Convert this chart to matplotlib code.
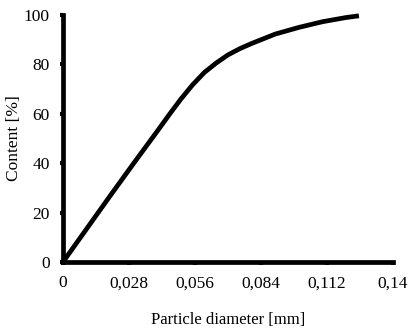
import matplotlib
matplotlib.use("Agg")
import matplotlib.pyplot as plt

diameter = [0, 0.01, 0.02, 0.03, 0.04, 0.045, 0.05, 0.055, 0.06, 0.065, 0.07, 0.075, 0.08, 0.085, 0.09, 0.10, 0.11, 0.12, 0.1255]
content = [0, 13.4, 26.8, 40, 53, 59.6, 66, 71.8, 76.8, 80.6, 83.9, 86.4, 88.5, 90.4, 92.3, 95, 97.3, 99, 99.7]

x_ticks = [0, 0.028, 0.056, 0.084, 0.112, 0.14]
x_tick_labels = ["0", "0,028", "0,056", "0,084", "0,112", "0,14"]
y_ticks = [0, 20, 40, 60, 80, 100]

plt.rcParams['font.family'] = ['Liberation Serif', 'DejaVu Serif']

fig = plt.figure(figsize=(4.2, 3.35), dpi=100)
ax = fig.add_axes([0.15, 0.218, 0.786, 0.737])
ax.plot(diameter, content, color='black', lw=3.4, solid_joinstyle='round', solid_capstyle='butt', clip_on=False)
ax.set_xlim(0, 0.14)
ax.set_ylim(0, 100)
ax.set_xticks(x_ticks)
ax.set_xticklabels(x_tick_labels)
ax.set_yticks(y_ticks)
for s in ['top', 'right']:
    ax.spines[s].set_visible(False)
for s in ['left', 'bottom']:
    ax.spines[s].set_linewidth(3.4)
    ax.spines[s].set_capstyle('projecting')
ax.tick_params(direction='out', length=2.5, width=3, labelsize=12.5, pad=7)
ax.set_xlabel("Particle diameter [mm]", fontsize=12, labelpad=15)
ax.set_ylabel("Content [%]", fontsize=12.5, labelpad=1.5)
fig.savefig("out.png", dpi=100)
